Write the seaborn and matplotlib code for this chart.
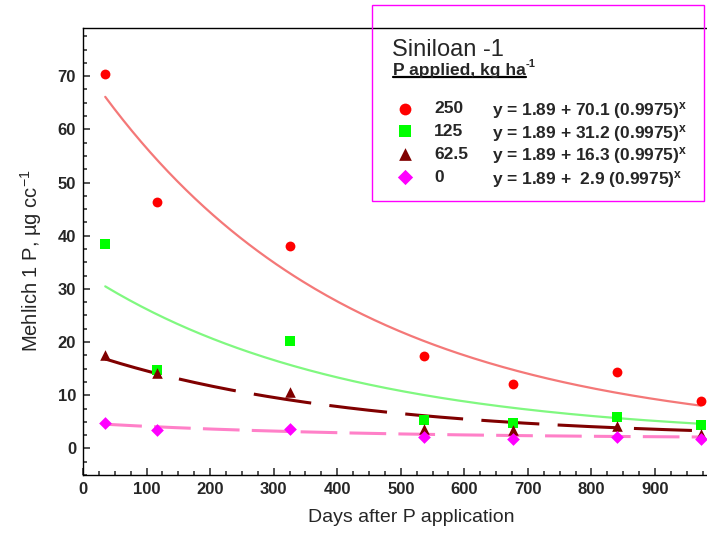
import numpy as np
import pandas as pd
import matplotlib
matplotlib.use("Agg")
import matplotlib.pyplot as plt
import seaborn as sns
from matplotlib.ticker import MultipleLocator
from matplotlib.patches import Rectangle
from matplotlib.lines import Line2D

# Mehlich 1 P measured at each sampling date (Siniloan -1)
days = [35, 117, 325, 536, 677, 840, 972]
p_250 = [70.4, 46.4, 38.1, 17.3, 12.1, 14.4, 8.9]
p_125 = [38.4, 14.7, 20.2, 5.3, 4.7, 5.9, 4.4]
p_62 = [17.5, 14.1, 10.7, 3.7, 3.4, 4.2, 2.8]
p_0 = [4.8, 3.4, 3.7, 2.2, 1.7, 2.2, 1.7]

rates = ["250", "125", "62.5", "0"]
# fitted model y = c + a * b^x, coefficients as given in the legend
fit_c = 1.89
fit_a = [70.1, 31.2, 16.3, 2.9]
fit_b = 0.9975
equations = ["y = 1.89 + 70.1 (0.9975)",
             "y = 1.89 + 31.2 (0.9975)",
             "y = 1.89 + 16.3 (0.9975)",
             "y = 1.89 +  2.9 (0.9975)"]
x_ticks = [0, 100, 200, 300, 400, 500, 600, 700, 800, 900]

sns.set_style("ticks")
plt.rcParams["font.family"] = ["Liberation Sans", "DejaVu Sans"]
plt.rcParams["mathtext.fontset"] = "custom"
plt.rcParams["mathtext.rm"] = "Liberation Sans"
plt.rcParams["mathtext.bf"] = "Liberation Sans:bold"
plt.rcParams["mathtext.it"] = "Liberation Sans:italic"

points = pd.DataFrame({
    "days": days * 4,
    "P": p_250 + p_125 + p_62 + p_0,
    "rate": sum([[r] * len(days) for r in rates], []),
})

curve_x = np.linspace(days[0], days[-1], 200)
curves = pd.DataFrame({
    "days": np.tile(curve_x, 4),
    "P": np.concatenate([fit_c + a * fit_b ** curve_x for a in fit_a]),
    "rate": np.repeat(rates, len(curve_x)),
})

marker_col = {"250": "#ff0000", "125": "#00ff00", "62.5": "#800000", "0": "#ff00ff"}
marker_shape = {"250": "o", "125": "s", "62.5": "^", "0": "D"}
marker_size = {"250": 50, "125": 50, "62.5": 58, "0": 42}
line_col = {"250": "#f47878", "125": "#80f880", "62.5": "#800000", "0": "#ff80c8"}
line_w = {"250": 1.6, "125": 1.6, "62.5": 2.2, "0": 2.2}
line_style = {"250": "-", "125": "-", "62.5": (0, (19, 6)), "0": (0, (12, 4))}

fig = plt.figure(figsize=(7.07, 5.41), dpi=100)
ax = fig.add_axes([0.1174, 0.122, 0.899, 0.8257])

for r in rates:
    sns.lineplot(data=curves[curves["rate"] == r], x="days", y="P", ax=ax,
                 color=line_col[r], linewidth=line_w[r], linestyle=line_style[r],
                 zorder=2)

handles = []
for r in rates:
    sns.scatterplot(data=points[points["rate"] == r], x="days", y="P", ax=ax,
                    marker=marker_shape[r], color=marker_col[r],
                    s=marker_size[r], linewidth=0, zorder=3)
    handles.append(ax.collections[-1])

ax.set_xlim(0, 1000)
ax.set_ylim(-5, 79)
ax.set_xticks(x_ticks)
ax.xaxis.set_minor_locator(MultipleLocator(25))
ax.yaxis.set_major_locator(MultipleLocator(10))
ax.yaxis.set_minor_locator(MultipleLocator(2.5))
ax.tick_params(which="both", direction="in", width=1.1, top=False, right=False)
ax.tick_params(which="major", length=5, labelsize=12, pad=5)
ax.tick_params(which="minor", length=3)
for lab in ax.get_xticklabels() + ax.get_yticklabels():
    lab.set_fontweight("bold")
for sp in ax.spines.values():
    sp.set_linewidth(1.0)
    sp.set_color("black")

ax.set_xlabel("Days after P application", fontsize=14)
ax.set_ylabel("Mehlich 1 P, µg cc$^{-1}$", fontsize=14.5)
ax.xaxis.set_label_coords(0.517, -0.075)
ax.yaxis.set_label_coords(-0.062, 0.48)

# legend box in figure pixels
W, H = 707, 541
fig.patches.append(Rectangle((372 / W, 1 - 201 / H), 332 / W, 196 / H,
                             transform=fig.transFigure, fill=False,
                             edgecolor="#ff00ff", linewidth=1.0))

fig.text(392 / W, 1 - 50 / H, "Siniloan -1", fontsize=17, va="center", ha="left")
sub = fig.text(393 / W, 1 - 70 / H, "P applied, kg ha", fontsize=12.5,
               fontweight="bold", va="center", ha="left")
fig.canvas.draw()
bb = sub.get_window_extent()
fig.text(bb.x1 / W, 1 - 64 / H, "-1", fontsize=8, fontweight="bold",
         va="center", ha="left")
fig.add_artist(Line2D([bb.x0 / W, bb.x1 / W], [1 - 77 / H, 1 - 77 / H],
                      transform=fig.transFigure, color="black", linewidth=1.6))

leg = ax.legend(handles, rates, loc="upper left",
                bbox_to_anchor=(394 / W, 1 - 101 / H), bbox_transform=fig.transFigure,
                frameon=False, prop={"weight": "bold", "size": 12.5},
                handletextpad=1.0, labelspacing=0.44, handlelength=1.3,
                markerscale=1.2, borderpad=0, borderaxespad=0)

row_y = [110, 133, 156, 179]
for eq, yy in zip(equations, row_y):
    fig.text(492 / W, 1 - yy / H, eq + "$^{\\mathbf{x}}$", fontsize=12.5,
             fontweight="bold", va="center", ha="left")

fig.savefig("out.png", dpi=100)
